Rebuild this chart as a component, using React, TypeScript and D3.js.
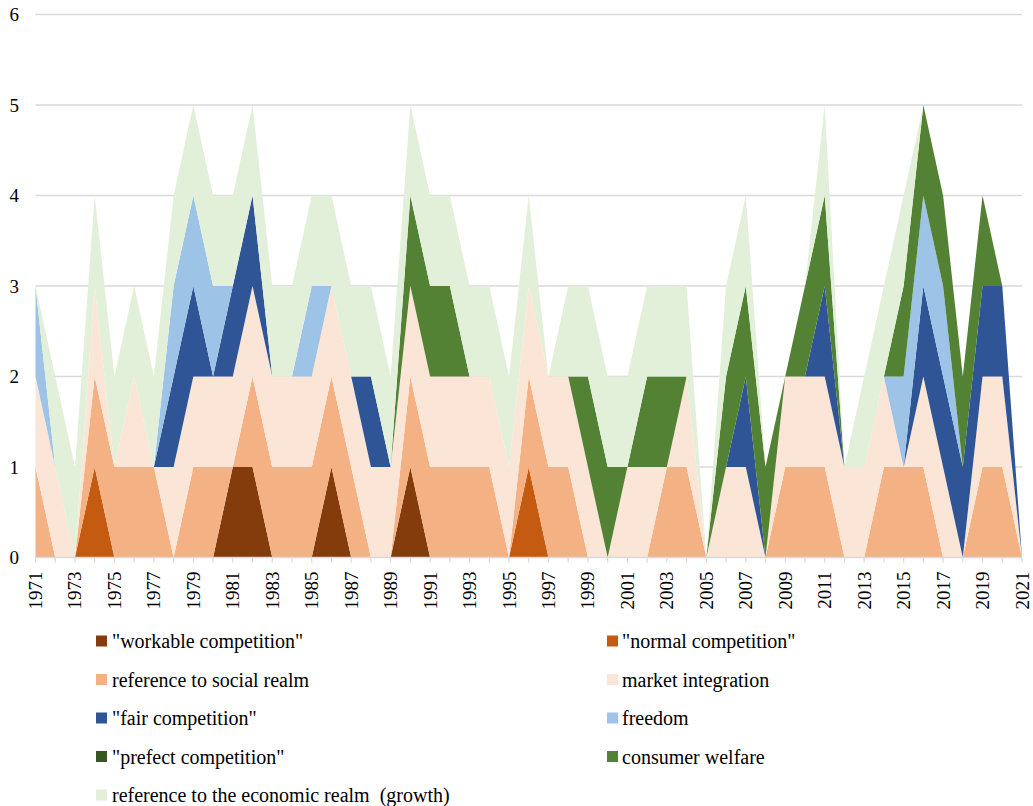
import React from "react";
import * as d3 from "d3";

const years: number[] = d3.range(1971, 2022);

const seriesNames: string[] = [
  '"workable competition"',
  '"normal competition"',
  "reference to social realm",
  "market integration",
  '"fair competition"',
  "freedom",
  '"prefect competition"',
  "consumer welfare",
  "reference to the economic realm  (growth)",
];

const seriesColors: string[] = [
  "#843C0C",
  "#C55A11",
  "#F4B183",
  "#FBE5D6",
  "#2F5597",
  "#9DC3E6",
  "#375623",
  "#548235",
  "#E2F0D9",
];

// values per year, 1971..2021
const workable: number[] = [0,0,0,0,0,0,0,0,0,0, 1,1,0,0,0,1,0,0,0,1, 0,0,0,0,0,0,0,0,0,0, 0,0,0,0,0,0,0,0,0,0, 0,0,0,0,0,0,0,0,0,0, 0];
const normal: number[] = [0,0,0,1,0,0,0,0,0,0, 0,0,0,0,0,0,0,0,0,0, 0,0,0,0,0,1,0,0,0,0, 0,0,0,0,0,0,0,0,0,0, 0,0,0,0,0,0,0,0,0,0, 0];
const social: number[] = [1,0,0,1,1,1,1,0,1,1, 0,1,1,1,1,1,1,0,0,1, 1,1,1,1,0,1,1,1,0,0, 0,0,1,1,0,0,0,0,1,1, 1,0,0,1,1,1,0,0,1,1, 0];
const market: number[] = [1,1,0,1,0,1,0,1,1,1, 1,1,1,1,1,1,1,1,1,1, 1,1,1,1,1,1,1,1,1,0, 1,1,0,1,0,1,1,0,1,1, 1,1,1,1,0,1,1,0,1,1, 0];
const fair: number[] = [0,0,0,0,0,0,0,1,1,0, 1,1,0,0,0,0,0,1,0,0, 0,0,0,0,0,0,0,0,0,0, 0,0,0,0,0,0,1,0,0,0, 1,0,0,0,0,1,1,1,1,1, 0];
const freedom: number[] = [1,0,0,0,0,0,0,1,1,1, 0,0,0,0,1,0,0,0,0,0, 0,0,0,0,0,0,0,0,0,0, 0,0,0,0,0,0,0,0,0,0, 0,0,0,0,1,1,1,0,0,0, 0];
const prefect: number[] = [0,0,0,0,0,0,0,0,0,0, 0,0,0,0,0,0,0,0,0,0, 0,0,0,0,0,0,0,0,0,0, 0,0,0,0,0,0,0,0,0,0, 0,0,0,0,0,0,0,0,0,0, 0];
const consumer: number[] = [0,0,0,0,0,0,0,0,0,0, 0,0,0,0,0,0,0,0,0,1, 1,1,0,0,0,0,0,0,1,1, 0,1,1,0,0,1,1,1,0,1, 1,0,0,0,1,1,1,1,1,0, 0];
const economic: number[] = [0,1,1,1,1,1,1,1,1,1, 1,1,1,1,1,1,1,1,1,1, 1,1,1,1,1,1,0,1,1,1, 1,1,1,1,0,1,1,0,0,0, 1,0,1,1,1,0,0,0,0,0, 0];

const seriesValues: number[][] = [workable, normal, social, market, fair, freedom, prefect, consumer, economic];

const yTicks: number[] = [0, 1, 2, 3, 4, 5, 6];

const W = 1033;
const H = 806;
const FONT = "'Liberation Serif', 'Times New Roman', serif";

export default function App() {
  const x = d3.scaleLinear().domain([1971, 2021]).range([35.5, 1022]);
  const y = d3.scaleLinear().domain([0, 6]).range([557.5, 14.5]);

  const rows = years.map((yr, i) => {
    const r: Record<string, number> = { year: yr };
    seriesNames.forEach((n, k) => (r[n] = seriesValues[k][i]));
    return r;
  });
  const stacked = d3.stack<Record<string, number>>().keys(seriesNames)(rows);
  const area = d3
    .area<d3.SeriesPoint<Record<string, number>>>()
    .x((d) => x(d.data.year))
    .y0((d) => y(d[0]))
    .y1((d) => y(d[1]));

  const legendLeft = [0, 2, 4, 6, 8];
  const legendRight = [1, 3, 5, 7];
  const rowY = (j: number) => 641 + j * 38.5;

  return (
    <svg
      width={W}
      height={H}
      style={{ position: "absolute", left: 0, top: 0, background: "#fff" }}
      fontFamily={FONT}
    >
      {yTicks.map((t) => (
        <g key={t}>
          {t > 0 && (
            <line x1={35.5} x2={1022} y1={y(t)} y2={y(t)} stroke="#D9D9D9" strokeWidth={1.5} />
          )}
          <text x={19} y={y(t)} textAnchor="end" dominantBaseline="central" fontSize={19} fill="#000">
            {t}
          </text>
        </g>
      ))}
      {stacked.map((s, k) => (
        <path key={s.key} d={area(s) || ""} fill={seriesColors[k]} />
      ))}
      <line x1={35.5} x2={1022} y1={y(0)} y2={y(0)} stroke="#D9D9D9" strokeWidth={1.5} />
      {years.map((yr) => (
        <line key={yr} x1={x(yr)} x2={x(yr)} y1={y(0)} y2={y(0) + 5} stroke="#D9D9D9" strokeWidth={1.2} />
      ))}
      {years
        .filter((yr) => (yr - 1971) % 2 === 0)
        .map((yr) => (
          <text
            key={yr}
            transform={`translate(${x(yr)},${571.5}) rotate(-90)`}
            textAnchor="end"
            dominantBaseline="central"
            fontSize={19}
            fill="#000"
          >
            {yr}
          </text>
        ))}
      {legendLeft.map((k, j) => (
        <g key={k}>
          <rect x={96} y={rowY(j) - 5.5} width={11} height={11} fill={seriesColors[k]} />
          <text x={112} y={rowY(j)} dominantBaseline="central" fontSize={20} fill="#000" style={{ whiteSpace: "pre" }}>
            {seriesNames[k]}
          </text>
        </g>
      ))}
      {legendRight.map((k, j) => (
        <g key={k}>
          <rect x={607} y={rowY(j) - 5.5} width={11} height={11} fill={seriesColors[k]} />
          <text x={622} y={rowY(j)} dominantBaseline="central" fontSize={20} fill="#000" style={{ whiteSpace: "pre" }}>
            {seriesNames[k]}
          </text>
        </g>
      ))}
    </svg>
  );
}
